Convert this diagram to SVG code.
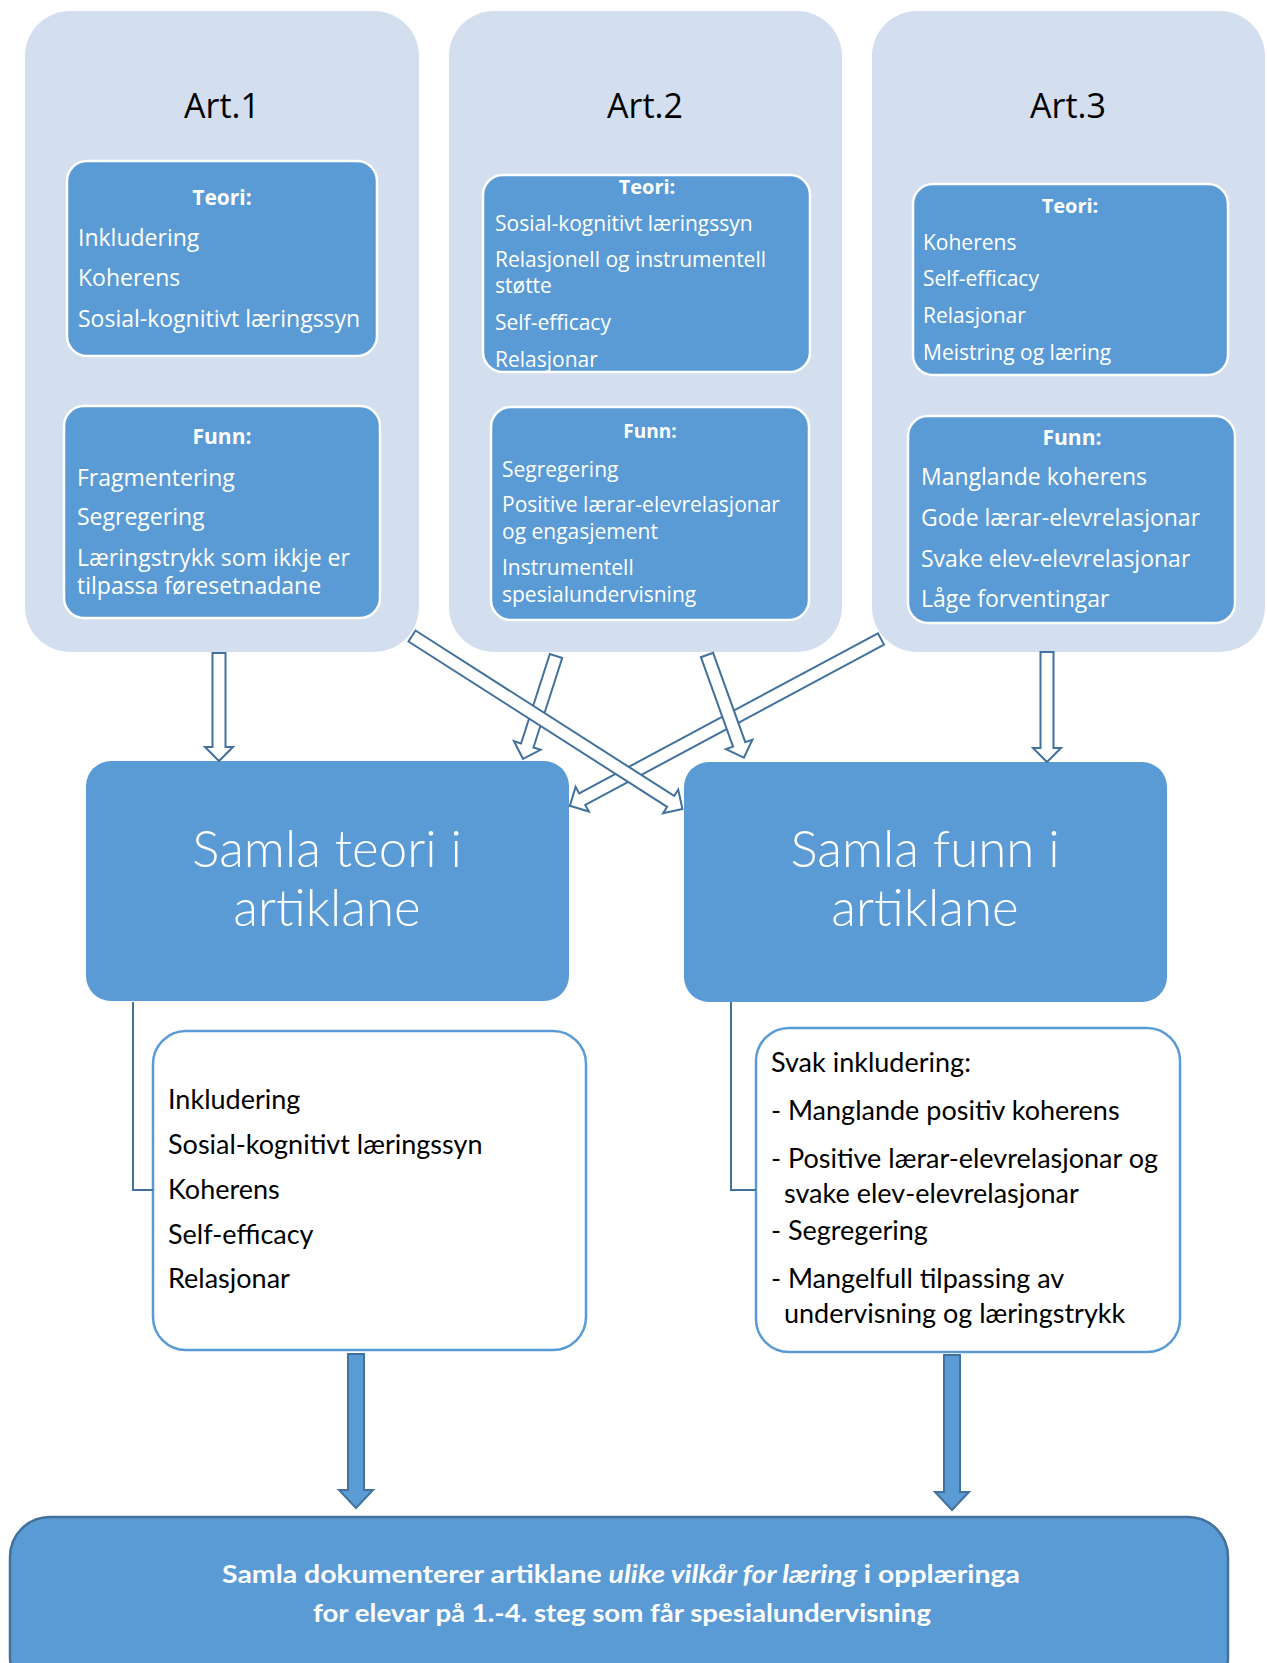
<svg xmlns="http://www.w3.org/2000/svg" width="1267" height="1663" viewBox="0 0 1267 1663">
<style>
.art{fill:#D3DEEF}
.inner{fill:#5B9BD5;stroke:#FFFFFF;stroke-width:2.5}
.big{fill:#5B9BD5}
.wbox{fill:#FFFFFF;stroke:#5B9BD5;stroke-width:2.5}
.title{font-family:"Open Sans","DejaVu Sans",sans-serif;font-size:34px;fill:#000;text-anchor:middle}
.hd{font-family:"Open Sans","DejaVu Sans",sans-serif;font-weight:bold;fill:#fff;text-anchor:middle}
.it{font-family:"Open Sans","DejaVu Sans",sans-serif;fill:#fff}
.bigt{font-family:Lato,"Liberation Sans",sans-serif;font-weight:300;font-size:51px;fill:#fff;text-anchor:middle}
.low{font-family:Lato,"Liberation Sans",sans-serif;font-size:27px;fill:#000}
.bot{font-family:Lato,"Liberation Sans",sans-serif;font-weight:bold;font-size:25px;fill:#fff;text-anchor:middle}
.oarrow{fill:#FFFFFF;stroke:#41719C;stroke-width:2;stroke-linejoin:miter}
.sarrow{fill:#5B9BD5;stroke:#41719C;stroke-width:2}
.elbow{fill:none;stroke:#41719C;stroke-width:2}
</style>

<g id="art1">
<rect class="art" x="25" y="11" width="394" height="641" rx="45"/>
<text class="title" x="222" y="118">Art.1</text>
<g id="art1-teori">
<rect class="inner" x="67" y="161" width="310" height="195" rx="20"/>
<text class="hd" x="222" y="205" font-size="21">Teori:</text>
<text class="it" font-size="23"><tspan x="78" y="246">Inkludering</tspan><tspan x="78" y="286">Koherens</tspan><tspan x="78" y="327">Sosial-kognitivt læringssyn</tspan></text>
</g>
<g id="art1-funn">
<rect class="inner" x="64" y="406" width="316" height="212" rx="20"/>
<text class="hd" x="222" y="444" font-size="21">Funn:</text>
<text class="it" font-size="23"><tspan x="77" y="486">Fragmentering</tspan><tspan x="77" y="525">Segregering</tspan><tspan x="77" y="566">Læringstrykk som ikkje er</tspan><tspan x="77" y="594">tilpassa føresetnadane</tspan></text>
</g>
</g>

<g id="art2">
<rect class="art" x="449" y="11" width="393" height="641" rx="45"/>
<text class="title" x="645" y="118">Art.2</text>
<g id="art2-teori">
<rect class="inner" x="483" y="175" width="327" height="197" rx="20"/>
<text class="hd" x="647" y="194" font-size="20">Teori:</text>
<text class="it" font-size="21"><tspan x="495" y="231">Sosial-kognitivt læringssyn</tspan><tspan x="495" y="267">Relasjonell og instrumentell</tspan><tspan x="495" y="293">støtte</tspan><tspan x="495" y="330">Self-efficacy</tspan><tspan x="495" y="367">Relasjonar</tspan></text>
</g>
<g id="art2-funn">
<rect class="inner" x="491" y="407" width="318" height="213" rx="20"/>
<text class="hd" x="650" y="438" font-size="19">Funn:</text>
<text class="it" font-size="21"><tspan x="502" y="477">Segregering</tspan><tspan x="502" y="512">Positive lærar-elevrelasjonar</tspan><tspan x="502" y="539">og engasjement</tspan><tspan x="502" y="575">Instrumentell</tspan><tspan x="502" y="602">spesialundervisning</tspan></text>
</g>
</g>

<g id="art3">
<rect class="art" x="872" y="11" width="393" height="641" rx="45"/>
<text class="title" x="1068" y="118">Art.3</text>
<g id="art3-teori">
<rect class="inner" x="913" y="184" width="315" height="191" rx="20"/>
<text class="hd" x="1070" y="213" font-size="20">Teori:</text>
<text class="it" font-size="21"><tspan x="923" y="250">Koherens</tspan><tspan x="923" y="286">Self-efficacy</tspan><tspan x="923" y="323">Relasjonar</tspan><tspan x="923" y="360">Meistring og læring</tspan></text>
</g>
<g id="art3-funn">
<rect class="inner" x="908" y="416" width="327" height="207" rx="20"/>
<text class="hd" x="1072" y="445" font-size="21">Funn:</text>
<text class="it" font-size="23"><tspan x="921" y="485">Manglande koherens</tspan><tspan x="921" y="526">Gode lærar-elevrelasjonar</tspan><tspan x="921" y="567">Svake elev-elevrelasjonar</tspan><tspan x="921" y="607">Låge forventingar</tspan></text>
</g>
</g>

<g id="samla-teori">
<rect class="big" x="86" y="761" width="483" height="240" rx="25"/>
<text class="bigt"><tspan x="327" y="867">Samla teori i</tspan><tspan x="327" y="926">artiklane</tspan></text>
</g>

<g id="samla-funn">
<rect class="big" x="684" y="762" width="483" height="240" rx="25"/>
<text class="bigt"><tspan x="925" y="867">Samla funn i</tspan><tspan x="925" y="926">artiklane</tspan></text>
</g>

<g id="teori-liste">
<rect class="wbox" x="153" y="1031" width="433" height="319" rx="33"/>
<text class="low"><tspan x="168" y="1109">Inkludering</tspan><tspan x="168" y="1154">Sosial-kognitivt læringssyn</tspan><tspan x="168" y="1199">Koherens</tspan><tspan x="168" y="1244">Self-efficacy</tspan><tspan x="168" y="1288">Relasjonar</tspan></text>
</g>

<g id="funn-liste">
<rect class="wbox" x="756" y="1028" width="424" height="324" rx="33"/>
<text class="low"><tspan x="771" y="1072">Svak inkludering:</tspan><tspan x="771" y="1120">- Manglande positiv koherens</tspan><tspan x="771" y="1168">- Positive lærar-elevrelasjonar og</tspan><tspan x="784" y="1203">svake elev-elevrelasjonar</tspan><tspan x="771" y="1240">- Segregering</tspan><tspan x="771" y="1288">- Mangelfull tilpassing av</tspan><tspan x="784" y="1323">undervisning og læringstrykk</tspan></text>
</g>

<g id="konklusjon">
<rect x="10" y="1517" width="1218" height="180" rx="40" fill="#5B9BD5" stroke="#41719C" stroke-width="2.5"/>
<text class="bot" x="621" y="1583" textLength="798" lengthAdjust="spacingAndGlyphs">Samla dokumenterer artiklane <tspan font-style="italic">ulike vilkår for læring</tspan> i opplæringa</text>
<text class="bot" x="622" y="1622" textLength="618" lengthAdjust="spacingAndGlyphs">for elevar på 1.-4. steg som får spesialundervisning</text>
</g>

<g id="connectors">
<path class="elbow" d="M133,1002 V1190 H153"/>
<path class="elbow" d="M731,1002 V1190 H756"/>
<path class="oarrow" transform="translate(219,653) rotate(90)" d="M0,-6.5 H94 V-14 L108,0 L94,14 V6.5 H0 Z"/>
<path class="oarrow" transform="translate(556,656) rotate(107.8)" d="M0,-6.5 H94 V-14 L108,0 L94,14 V6.5 H0 Z"/>
<path class="oarrow" transform="translate(881,639) rotate(151.8)" d="M0,-6.5 H339 V-14 L353,0 L339,14 V6.5 H0 Z"/>
<path class="oarrow" transform="translate(412,636) rotate(32.6)" d="M0,-6.5 H307 V-14 L321,0 L307,14 V6.5 H0 Z"/>
<path class="oarrow" transform="translate(707,655) rotate(70.2)" d="M0,-6.5 H95 V-14 L109,0 L95,14 V6.5 H0 Z"/>
<path class="oarrow" transform="translate(1047,652) rotate(90)" d="M0,-6.5 H96 V-14 L110,0 L96,14 V6.5 H0 Z"/>
<path class="sarrow" d="M348,1354 H364 V1490 H373 L356,1508 L339,1490 H348 Z"/>
<path class="sarrow" d="M944,1355 H960 V1492 H969 L952,1510 L935,1492 H944 Z"/>
</g>
</svg>
